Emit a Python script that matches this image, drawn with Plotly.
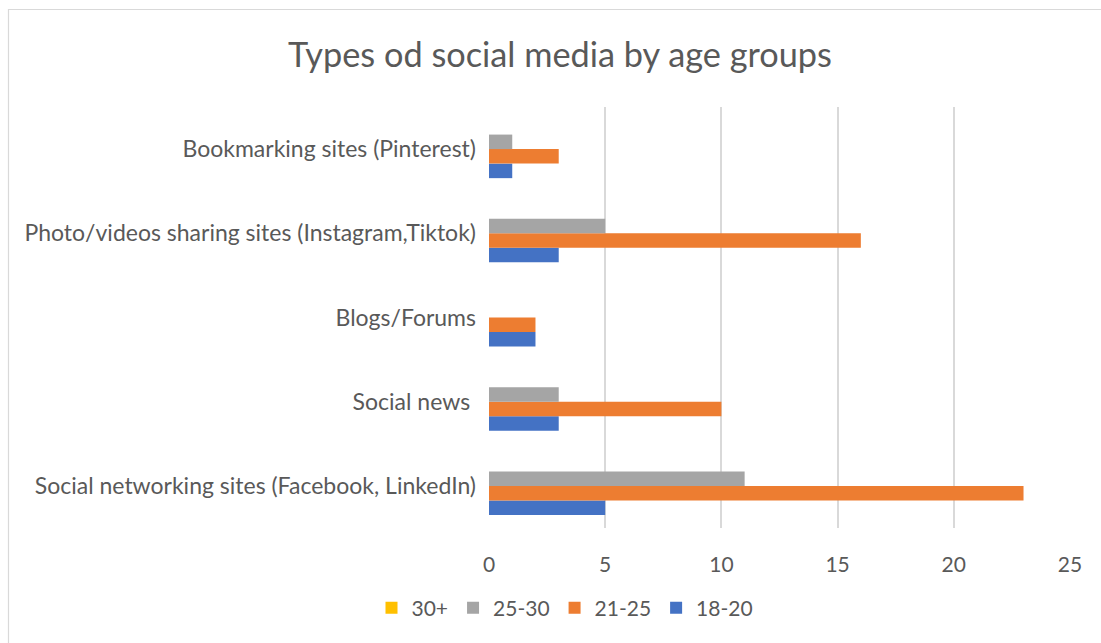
import plotly.graph_objects as go

categories = [
    "Social networking sites (Facebook, LinkedIn)",
    "Social news ",
    "Blogs/Forums",
    "Photo/videos sharing sites (Instagram,Tiktok)",
    "Bookmarking sites (Pinterest)",
]
series_names = ["18-20", "21-25", "25-30", "30+"]
v_18_20 = [5, 3, 2, 3, 1]
v_21_25 = [23, 10, 2, 16, 3]
v_25_30 = [11, 3, 0, 5, 1]
v_30p = [0, 0, 0, 0, 0]
colors = ["#4472C4", "#ED7D31", "#A5A5A5", "#FFC000"]
x_ticks = [0, 5, 10, 15, 20, 25]

W, H = 1101, 643
ml, mr, mt, mb = 489, 31, 107, 115
TXT = "#595959"

fig = go.Figure()
for name, vals, c in zip(series_names, [v_18_20, v_21_25, v_25_30, v_30p], colors):
    fig.add_trace(go.Bar(
        y=categories, x=vals, name=name, orientation="h",
        marker=dict(color=c, line=dict(width=0)),
    ))

pw = W - ml - mr
ph = H - mt - mb
def px_x(p):
    return (p - ml) / pw
def px_y(p):
    return 1 - (p - mt) / ph

fig.update_layout(
    width=W, height=H,
    margin=dict(l=ml, r=mr, t=mt, b=mb, pad=0),
    paper_bgcolor="white", plot_bgcolor="white",
    barmode="group", bargap=0.31, bargroupgap=0,
    font=dict(family="Lato, Open Sans, sans-serif", color=TXT, size=21),
    title=dict(text="Types od social media by age groups", xref="container",
               x=560 / W, xanchor="center",
               yref="container", y=1 - 55 / H, yanchor="middle",
               font=dict(size=34.3, color=TXT)),
    xaxis=dict(range=[0, 25], tickvals=x_ticks, showgrid=True, gridcolor="#D9D9D9",
               gridwidth=1.5, zeroline=False, showline=False, ticks="",
               tickfont=dict(size=21, color=TXT), ticklabelstandoff=22),
    yaxis=dict(categoryorder="array", categoryarray=categories, showgrid=False,
               zeroline=False, showline=False, ticks="", ticklabelstandoff=12,
               tickfont=dict(size=23, color=TXT)),
    legend=dict(orientation="h", xref="container", x=565 / W, xanchor="center",
                yref="container", y=1 - 608 / H, yanchor="middle",
                traceorder="reversed", font=dict(size=21, color=TXT),
                itemwidth=30),
    showlegend=True,
)
fig.add_shape(type="rect", xref="paper", yref="paper",
              x0=px_x(8.5), x1=px_x(W + 20), y0=px_y(9.5), y1=px_y(H + 20),
              line=dict(color="#D9D9D9", width=1.2), layer="below")
fig.write_html("out.html", config={"displayModeBar": False},
               post_script="document.body.style.margin='0';")
